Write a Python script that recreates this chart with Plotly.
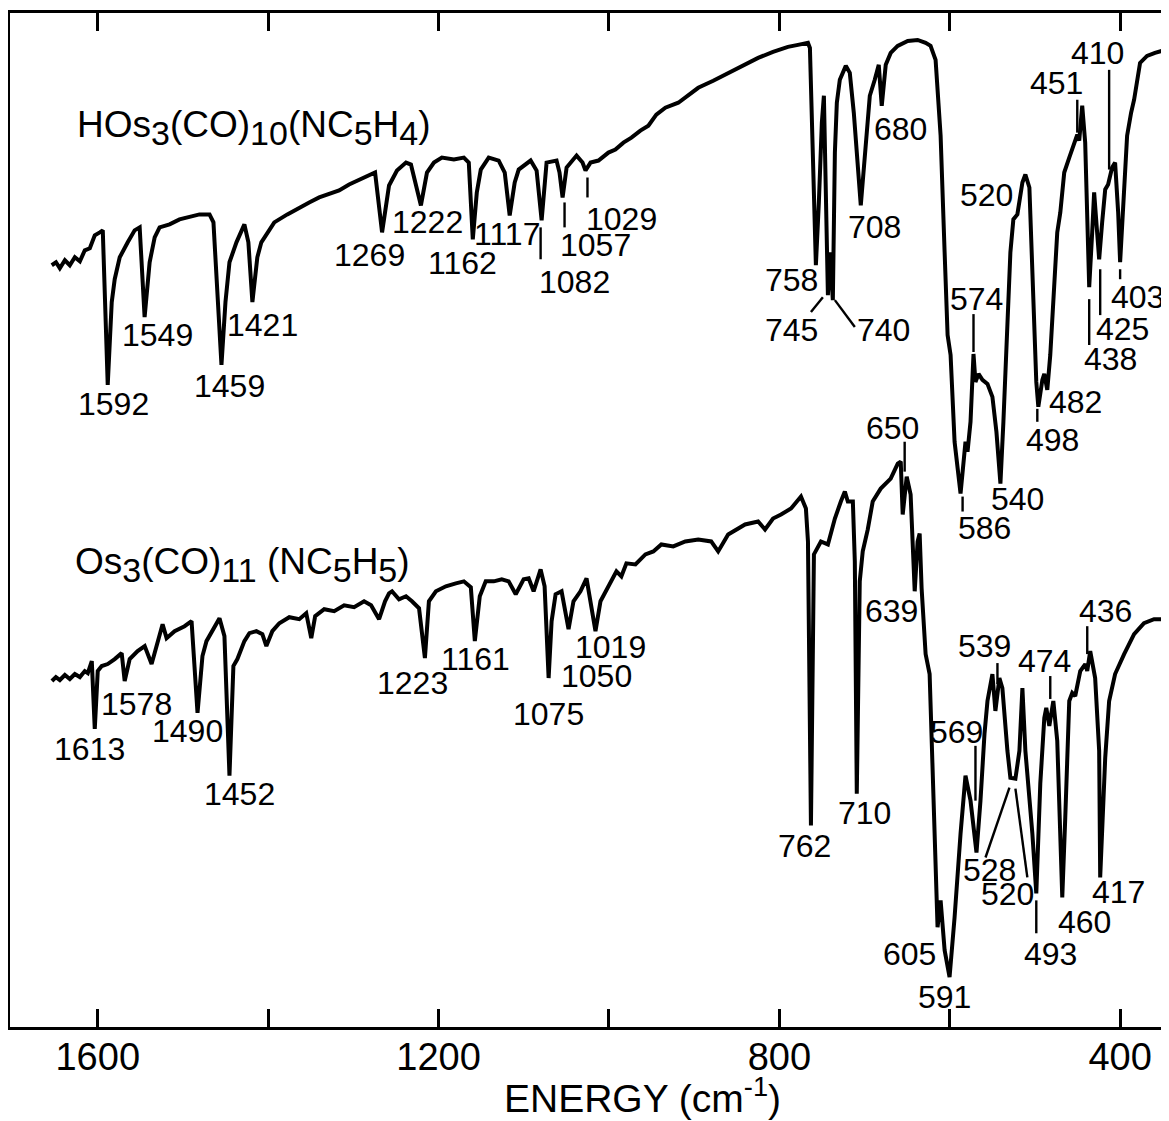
import plotly.graph_objects as go

# ---------------- data (wavenumber cm^-1, transmittance arb. units) ----------------
top_wn = [1654, 1649, 1644.5, 1638.6, 1632.8, 1626.9, 1621, 1615.2, 1609.3, 1603.5, 1597.6, 1594.1,
          1588.3, 1583.6, 1580.1, 1574.2, 1564.8, 1556.7, 1550.8, 1545, 1539.1, 1533.2, 1527.4,
          1515.7, 1504, 1492.3, 1480.6, 1468.8, 1464.2, 1454.8, 1450.1, 1445.4, 1437.2, 1427.9,
          1423.2, 1418.5, 1412.7, 1408, 1392.8, 1377.5, 1363.5, 1351.8, 1340.1, 1328.4, 1316.7,
          1305, 1293.2, 1281.5, 1274.5, 1266.3, 1258.1, 1248.8, 1238.2, 1232.4, 1220.7, 1213.6,
          1205.4, 1196.1, 1182, 1170.3, 1164.5, 1159.8, 1155.1, 1150.4, 1141.1, 1129.4, 1122.3,
          1116.5, 1110.6, 1105.9, 1091.9, 1084.9, 1079, 1073.2, 1061.5, 1058, 1054.4, 1049.7,
          1038, 1031, 1027.5, 1021.6, 1012.3, 1000.6, 992.4, 983, 973.6, 963.1, 953.7, 944.4,
          933.8, 918.6, 906.9, 895.2, 877.6, 860.1, 842.5, 824.9, 807.4, 789.9, 778.1, 766.4,
          764.1, 757.1, 753.6, 750.1, 747.7, 745.4, 743, 740.7, 737.2, 734.8, 732.5, 729, 722,
          717.3, 712.6, 704.4, 698.5, 693.8, 688, 683.3, 679.8, 675.1, 669.3, 661.1, 649.3,
          637.7, 628.3, 622.5, 616.6, 610.7, 606, 602.5, 599, 594.3, 587.3, 583.8, 581.5, 579.1,
          575.6, 572.1, 569.8, 566.2, 561.6, 555.7, 549.9, 545.2, 540.5, 537, 532.3, 528.8,
          525.3, 520.6, 514.7, 511.2, 506.5, 502, 498.4, 496, 491.3, 489, 485.5, 482, 477.3,
          473.8, 470.2, 465.6, 459.7, 453.8, 450.3, 448, 444.5, 441, 438.6, 436.3, 432.8, 430.5,
          427, 424.6, 421.1, 417.5, 414.1, 409.4, 405.9, 402.3, 400, 396.5, 391.8, 387.1, 383.6,
          376.6, 368.4, 359.1, 347.3]
top_t = [76.4, 76.7, 76.1, 76.9, 76.4, 77.2, 76.8, 77.9, 78.1, 79.4, 79.7, 79.9,
         64.4, 72.7, 75.0, 77.2, 78.7, 79.9, 80.2, 71.2, 76.7, 79.2, 80.2,
         80.5, 81.0, 81.2, 81.5, 81.5, 80.7, 66.4, 72.7, 76.7, 78.7, 80.5,
         78.7, 72.7, 77.2, 78.7, 80.7, 81.5, 82.2, 82.7, 83.2, 83.5, 83.9,
         84.5, 85.0, 85.5, 85.7, 79.7, 84.4, 85.9, 86.7, 86.5, 82.4, 85.7,
         86.7, 87.2, 87.0, 87.2, 86.7, 79.0, 83.7, 86.0, 87.2, 86.9, 85.7,
         81.4, 84.7, 86.0, 86.9, 85.9, 80.9, 86.7, 86.9, 85.7, 83.2, 86.2,
         87.4, 86.7, 85.9, 86.7, 86.9, 87.7, 88.0, 88.7, 89.2, 89.9, 90.4, 91.5,
         92.2, 92.7, 93.5, 94.2, 94.9, 95.7, 96.5, 97.2, 97.8, 98.3, 98.5, 98.7,
         98.2, 76.4, 82.7, 90.7, 93.4, 84.7, 73.4, 77.7, 72.9, 87.7, 92.7, 95.0, 96.4,
         95.7, 91.7, 82.4, 88.7, 93.4, 95.0, 96.5, 92.4, 96.5, 97.7, 98.4, 98.9,
         99.0, 98.7, 98.4, 97.0, 89.4, 77.7, 69.4, 67.4, 58.7, 53.5, 56.7, 58.7, 57.7,
         60.7, 67.5, 64.7, 65.5, 64.9, 64.5, 63.2, 59.7, 54.5, 60.7, 69.7, 77.7,
         81.0, 81.5, 84.7, 85.5, 84.2, 74.7, 64.7, 62.2, 64.9, 65.5, 63.9, 67.4, 74.7,
         79.7, 81.7, 85.7, 87.2, 88.7, 89.5, 88.9, 92.4, 88.7, 81.4, 74.2, 79.7, 83.7,
         79.7, 77.0, 80.7, 84.0, 84.5, 86.2, 86.7, 81.7, 76.7, 82.7, 89.4, 91.7, 93.0,
         96.7, 97.4, 97.7, 98.0]

bot_wn = [1653.8, 1649.1, 1644.5, 1638.6, 1632.8, 1626.9, 1621, 1615.2, 1611.7, 1607, 1603.5,
          1600, 1595.3, 1588.3, 1580.1, 1571.9, 1568.4, 1562.5, 1553.2, 1544.9, 1536.8, 1529.7,
          1523.9, 1519.2, 1509.8, 1498.1, 1489.9, 1482.9, 1477.1, 1472.4, 1465.3, 1457.1,
          1451.3, 1445.4, 1440.8, 1436.1, 1427.9, 1422, 1413.8, 1406.8, 1402.1, 1395.1, 1386.9,
          1375.2, 1363.5, 1355.3, 1349.4, 1344.8, 1334.2, 1322.5, 1310.8, 1299.1, 1287.4,
          1279.2, 1269.8, 1262.8, 1258.1, 1254.6, 1246.4, 1238.2, 1231.2, 1222.9, 1216,
          1211.3, 1203.1, 1191.4, 1179.7, 1170.3, 1162.1, 1157.4, 1151.6, 1144.6, 1135.2,
          1125.8, 1117.7, 1109.4, 1100.1, 1094.2, 1088.4, 1080.2, 1075.5, 1070.8, 1067.3,
          1062.6, 1055.6, 1047.4, 1041.6, 1033.4, 1026.3, 1021.6, 1015.8, 1009.9, 1004.1,
          997.1, 991.2, 985.4, 979.5, 968.9, 957.2, 947.9, 938.5, 924.5, 910.4, 895.2, 880,
          871.8, 860.1, 840.2, 824.9, 816.8, 807.4, 798, 786.3, 774.6, 768.8, 766.4, 762.9,
          759.4, 751.2, 743, 734.8, 727.8, 723.1, 719.6, 713.7, 711.4, 709.1, 705.6, 702.1,
          696.2, 690.4, 681, 669.3, 661, 657.5, 655.2, 650.5, 645.9, 641.1, 637.7, 635.3, 633,
          628.3, 623.6, 621.3, 616.6, 614.3, 610.7, 606, 600.2, 594.3, 587.3, 581.5, 575.6,
          572.1, 568.6, 563.9, 559.2, 555.7, 549.9, 546.4, 541.7, 538.2, 534.6, 532.3, 528.8,
          522.9, 518.2, 514.7, 511.2, 503, 498.4, 493.7, 489, 486.7, 483.1, 478.4, 473.8,
          467.9, 464.4, 459.7, 456.2, 452.7, 446.8, 440.9, 438.6, 435.1, 429.3, 424.6, 423.4,
          417.5, 412.9, 409.4, 405.9, 395.3, 383.6, 372, 360.2, 347.3]
bot_t = [34.7, 35.1, 34.8, 35.3, 34.9, 35.4, 35.1, 35.7, 35.5, 36.7, 29.9,
         35.7, 36.2, 36.4, 36.9, 37.5, 34.7, 36.9, 37.7, 38.2, 36.4, 38.7,
         40.4, 39.0, 39.7, 40.2, 40.7, 31.5, 37.2, 38.7, 39.7, 41.0,
         39.2, 25.2, 36.2, 36.9, 38.7, 39.5, 39.7, 39.4, 38.2, 39.7, 40.5,
         41.1, 40.9, 41.5, 39.0, 41.2, 41.9, 41.7, 42.3, 42.1, 42.7,
         42.3, 40.9, 42.7, 43.5, 43.7, 42.9, 43.2, 42.7, 42.0, 37.0,
         42.7, 43.7, 44.2, 44.5, 44.7, 44.1, 38.7, 43.2, 44.7, 44.7,
         44.9, 44.7, 43.4, 44.9, 45.0, 43.7, 45.9, 44.2, 35.0, 40.7,
         43.4, 43.7, 39.9, 42.7, 43.7, 45.0, 42.7, 39.7, 42.7, 43.7,
         44.7, 45.7, 45.2, 46.5, 46.4, 47.4, 47.7, 48.4, 48.2, 48.7, 48.9, 48.7,
         47.7, 49.4, 50.4, 50.7, 49.9, 51.0, 51.4, 52.0, 53.2, 52.0, 48.7, 20.2,
         47.4, 48.7, 48.4, 51.0, 52.7, 53.7, 52.7, 52.7, 46.7, 23.4, 44.7, 47.7,
         49.9, 52.7, 54.0, 55.0, 56.5, 56.7, 51.4, 55.2, 53.4, 43.7, 48.7, 49.5, 44.0,
         37.4, 35.4, 29.7, 17.7, 10.0, 12.7, 7.7, 5.0, 11.0, 19.4, 25.2, 22.7,
         19.7, 17.5, 22.7, 29.4, 32.7, 35.4, 31.7, 35.0, 34.0, 29.7, 27.7, 25.0,
         24.9, 27.7, 34.0, 27.7, 19.4, 13.4, 24.4, 31.0, 32.0, 30.2, 32.7, 28.7,
         13.0, 21.0, 32.7, 33.5, 33.2, 35.7, 36.4, 35.7, 37.7, 35.0, 27.7, 15.0,
         27.0, 32.7, 34.0, 35.4, 37.4, 39.4, 40.5, 40.9, 40.9]

# peak labels: text, wavenumber position, transmittance position
top_lbl = ["1592", "1549", "1459", "1421", "1269", "1222", "1162", "1117", "1082", "1057", "1029",
           "758", "745", "740", "708", "680", "520", "574", "586", "540", "498", "482",
           "451", "410", "403", "425", "438"]
top_lbl_wn = [1581.2, 1529.7, 1445.4, 1406.8, 1281.5, 1212.5, 1171.5, 1120, 1040.4, 1015.8, 985.4,
              785.2, 785.2, 677.4, 688, 657.5, 556.9, 568.6, 559.2, 520.6, 479.6, 452.7,
              475, 427, 380.1, 397.7, 411.7]
top_lbl_t = [62.5, 69.4, 64.3, 70.4, 77.4, 80.7, 76.6, 79.5, 74.7, 78.4, 81.0,
             74.9, 69.9, 69.9, 80.2, 90.1, 83.4, 73.0, 50.0, 53.0, 58.9, 62.7,
             94.7, 97.7, 73.2, 70.0, 67.0]

bot_lbl = ["1613", "1578", "1490", "1452", "1223", "1161", "1075", "1050", "1019",
           "762", "710", "650", "639", "569", "539", "474", "436", "528", "520",
           "605", "591", "493", "460", "417"]
bot_lbl_wn = [1609.3, 1554.3, 1494.6, 1433.7, 1230, 1156.3, 1070.8, 1014.6, 998.2,
              769.9, 699.7, 666.9, 668.1, 592, 559.2, 489, 417.6, 553.4, 532.3,
              647, 606, 481.9, 442.2, 402.3]
bot_lbl_t = [27.9, 32.4, 29.7, 23.4, 34.5, 36.9, 31.4, 35.2, 38.1,
             18.2, 21.5, 60.1, 41.7, 29.6, 38.2, 36.7, 41.7, 15.7, 13.3,
             7.3, 3.0, 7.3, 10.5, 13.5]

# leader lines: (wn0, t0, wn1, t1)
leaders = [
    (1025.2, 85.2, 1025.2, 83.2), (1052.1, 82.7, 1052.1, 80.2), (1080.2, 80.2, 1080.2, 77.0),
    (748.9, 73.2, 762.9, 71.7), (734.8, 72.9, 711.4, 70.2), (572.1, 71.5, 572.1, 67.7),
    (584.9, 53.2, 584.9, 51.7), (497.2, 62.0, 497.2, 60.7), (450.3, 93.0, 450.3, 89.7),
    (412.9, 96.0, 412.9, 86.0), (400.0, 76.0, 400.0, 75.0), (423.4, 76.0, 423.4, 71.4),
    (436.3, 73.0, 436.3, 68.4),
    (652.9, 58.7, 652.9, 55.7), (569.8, 28.2, 569.8, 22.7), (544.0, 36.5, 544.0, 34.4),
    (482.0, 35.2, 482.0, 32.9), (438.6, 40.2, 438.6, 37.4), (529.9, 24.0, 558.0, 17.0),
    (522.9, 23.9, 508.9, 15.0), (498.4, 12.7, 498.4, 9.4),
]

label_ticks = [1600, 1200, 800, 400]
label_text = ["1600", "1200", "800", "400"]
minor_ticks = [1400, 1000, 600]


def sub(s):
    return '<sub><span style="font-size:34px">' + s + '</span></sub>'


top_name = "HOs" + sub("3") + "(CO)" + sub("10") + "(NC" + sub("5") + "H" + sub("4") + ")"
bot_name = "Os" + sub("3") + "(CO)" + sub("11") + " (NC" + sub("5") + "H" + sub("5") + ")"

# ---------------- figure ----------------
FONT = "Liberation Sans"
fig = go.Figure()
fig.add_trace(go.Scatter(x=top_wn, y=top_t, mode="lines", name="HOs3(CO)10(NC5H4)",
                         line=dict(color="black", width=4), hoverinfo="x+y"))
fig.add_trace(go.Scatter(x=bot_wn, y=bot_t, mode="lines", name="Os3(CO)11(NC5H5)",
                         line=dict(color="black", width=4), hoverinfo="x+y"))

lx, ly = [], []
for a, b, c, d in leaders:
    lx += [a, c, None]
    ly += [b, d, None]
fig.add_trace(go.Scatter(x=lx, y=ly, mode="lines", line=dict(color="black", width=2.4),
                         hoverinfo="skip", showlegend=False))

for txt, xv, yv in list(zip(top_lbl, top_lbl_wn, top_lbl_t)) + list(zip(bot_lbl, bot_lbl_wn, bot_lbl_t)):
    fig.add_annotation(x=xv, y=yv, text=txt, showarrow=False, xanchor="center", yanchor="middle",
                       font=dict(family=FONT, size=32, color="black"))

fig.add_annotation(x=1627, y=90.2, text=top_name, showarrow=False, xanchor="left", yanchor="middle",
                   font=dict(family=FONT, size=37, color="black"))
fig.add_annotation(x=1629, y=46.3, text=bot_name, showarrow=False, xanchor="left", yanchor="middle",
                   font=dict(family=FONT, size=37, color="black"))

fig.add_annotation(x=0.548, y=-0.068, xref="paper", yref="paper", text="ENERGY (cm<sup>-1</sup>)",
                   showarrow=False, xanchor="center", yanchor="middle",
                   font=dict(family=FONT, size=39, color="black"))

fig.update_layout(
    width=1161, height=1113,
    margin=dict(l=2, r=2, t=2, b=94),
    paper_bgcolor="white", plot_bgcolor="white",
    showlegend=False,
    xaxis=dict(range=[1703, 348.5], tickvals=label_ticks, ticktext=label_text,
               ticks="inside", ticklen=18, tickwidth=2.5, tickcolor="black",
               minor=dict(tickmode="array", tickvals=minor_ticks, ticks="inside",
                          ticklen=18, tickwidth=2.5, tickcolor="black"),
               showline=True, linecolor="black", linewidth=3, mirror="ticks",
               showgrid=False, zeroline=False, ticklabelstandoff=-6,
               tickfont=dict(family=FONT, size=38, color="black")),
    yaxis=dict(range=[0, 101.7], showticklabels=False, ticks="",
               showline=True, linecolor="black", linewidth=3, mirror=True,
               showgrid=False, zeroline=False),
)

fig.write_html("out.html")
